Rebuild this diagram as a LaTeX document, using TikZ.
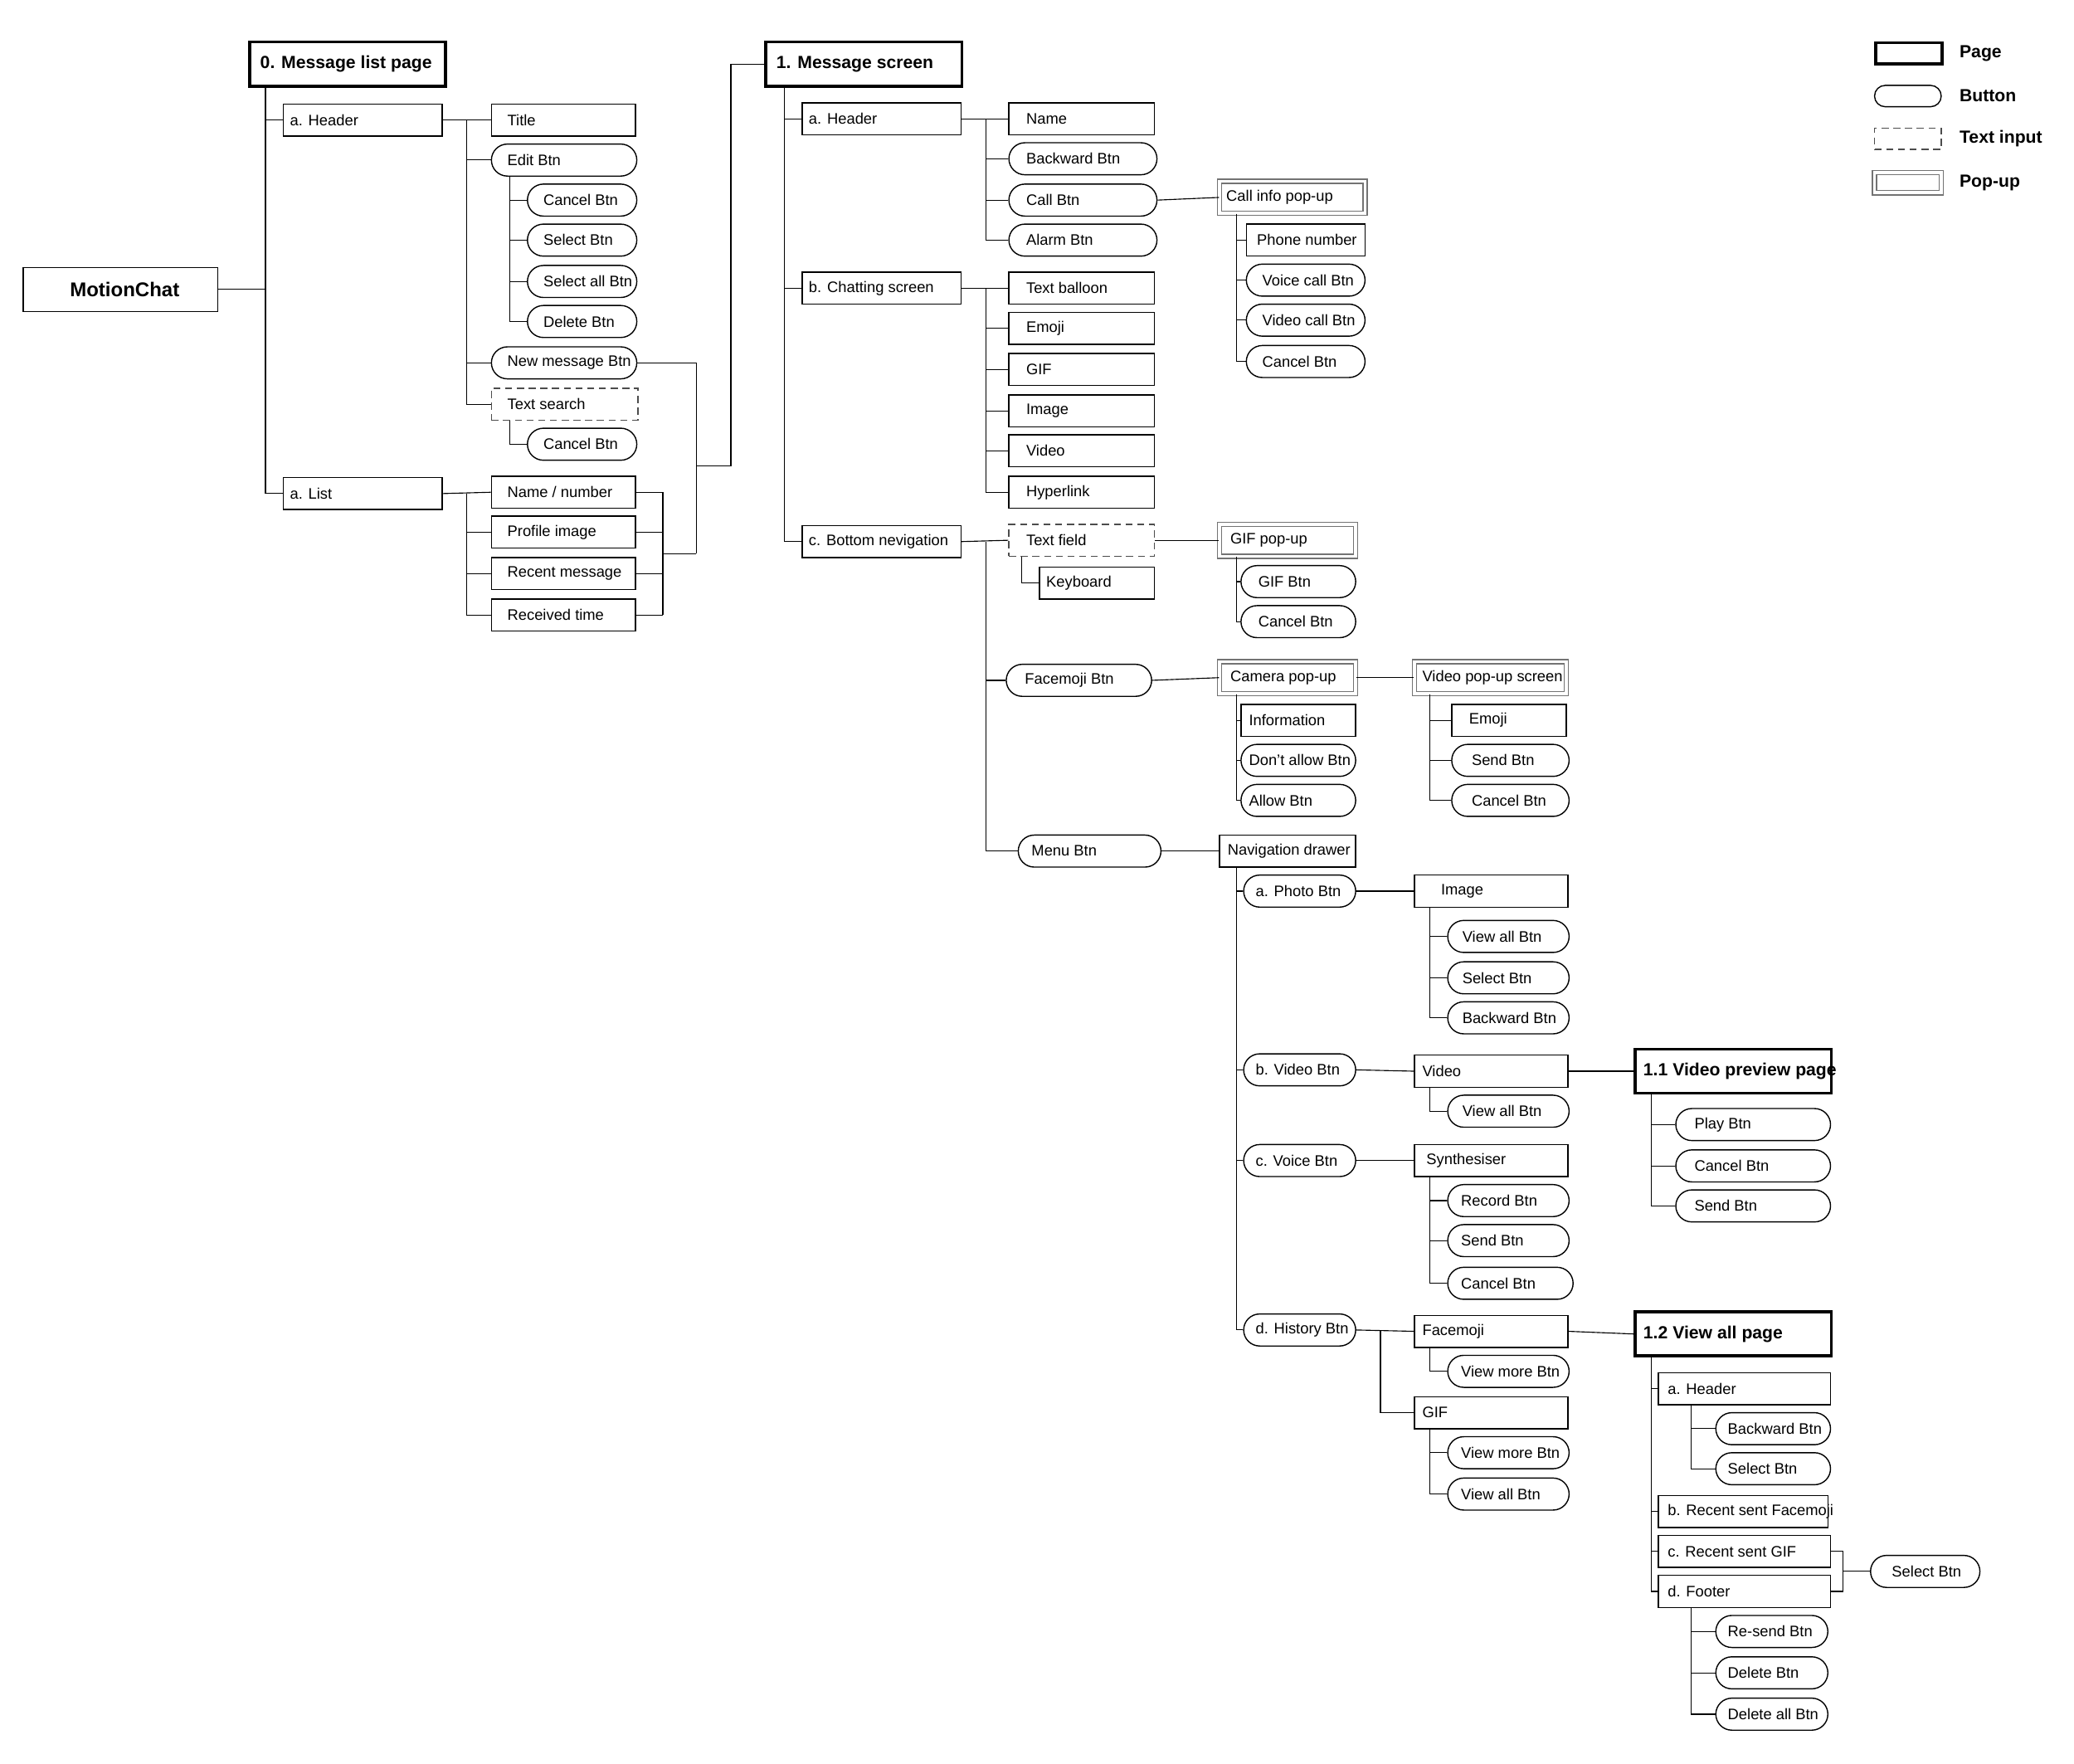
\documentclass[tikz,border=0pt]{standalone}
\usepackage{fontspec}
\setmainfont{Liberation Sans}
\usepackage{tikz}
\usetikzlibrary{calc}
\newlength\pxu
\setlength\pxu{0.02cm}
% box: name, x, y, width, style, pad, text
\newcommand{\bx}[7]{\node[#5, anchor=west, inner xsep=0pt] (#1) at (#2,#3) {\hspace*{#6\pxu}\makebox[\dimexpr#4\pxu-#6\pxu\relax][l]{#7}};}
% branch: from parent at column x to child
\newcommand{\tr}[3]{\draw (#2,0 |- #1.south) |- (#3.west);}
\tikzset{
  box/.style={draw, line width=0.5pt, minimum height=24\pxu, inner ysep=0pt, font=\fontsize{6.5}{7}\selectfont},
  btn/.style={box, rounded corners=12\pxu},
  tinput/.style={box, densely dashed, draw=black!70},
  popup/.style={box, draw=black!55, double, double distance=1.3pt},
  page/.style={box, line width=1.3pt, minimum height=33\pxu, font=\fontsize{7.5}{8}\selectfont\bfseries},
  lgtext/.style={anchor=west, font=\fontsize{7.5}{8}\selectfont\bfseries}
}
\begin{document}
\begin{tikzpicture}[x=0.02cm, y=-0.02cm]
  \useasboundingbox (0,0) rectangle (1555,1322);
  % legend
  \bx{lgPage}{1405}{40}{50}{page, minimum height=16\pxu}{0}{}
  \bx{lgBtn}{1405}{72}{50}{btn, minimum height=16\pxu, rounded corners=8\pxu}{0}{}
  \bx{lgTxt}{1405}{104}{50}{tinput, minimum height=16\pxu}{0}{}
  \bx{lgPop}{1405}{137}{50}{popup, minimum height=15\pxu}{0}{}
  \node[lgtext] (lgPageT) at (1463,40) {Page};
  \node[lgtext] (lgBtnT) at (1463,72) {Button};
  \node[lgtext] (lgTxtT) at (1463,104) {Text input};
  \node[lgtext] (lgPopT) at (1463,137) {Pop-up};

  % root
  \bx{root}{17}{217}{146}{box, minimum height=33\pxu, font=\fontsize{8.5}{9}\selectfont\bfseries}{35}{MotionChat}

  % 0. message list page
  \bx{pg0}{186}{48}{147}{page}{8}{0. Message list page}
  \bx{hd0}{212}{90}{119}{box}{5}{a. Header}
  \bx{ls0}{212}{370}{119}{box}{5}{a. List}
  \draw (root.east) -- (199,0 |- root.east);
  \tr{pg0}{199}{hd0}
  \tr{pg0}{199}{ls0}
  \bx{title0}{368}{90}{108}{box}{12}{Title}
  \bx{edit0}{368}{120}{109}{btn}{12}{Edit Btn}
  \bx{newmsg0}{368}{272}{109}{btn}{12}{New message Btn}
  \bx{search0}{368}{303}{110}{tinput}{12}{Text search}
  \draw (hd0.east) -- (title0.west);
  \draw (350,0 |- hd0.east) |- (edit0.west);
  \draw (350,0 |- hd0.east) |- (newmsg0.west);
  \draw (350,0 |- hd0.east) |- (search0.west);
  \bx{cancel0}{395}{150}{82}{btn}{12}{Cancel Btn}
  \bx{select0}{395}{180}{82}{btn}{12}{Select Btn}
  \bx{selall0}{395}{211}{82}{btn}{12}{Select all Btn}
  \bx{delete0}{395}{241}{82}{btn}{12}{Delete Btn}
  \foreach \c in {cancel0,select0,selall0,delete0}{\tr{edit0}{382}{\c}}
  \bx{scancel0}{395}{333}{82}{btn}{12}{Cancel Btn}
  \tr{search0}{382}{scancel0}
  \bx{name0}{368}{369}{108}{box}{12}{Name / number}
  \bx{prof0}{368}{399}{108}{box}{12}{Profile image}
  \bx{recent0}{368}{430}{108}{box}{12}{Recent message}
  \bx{recv0}{368}{461}{108}{box}{12}{Received time}
  \draw (ls0.east) -- (name0.west);
  \foreach \c in {prof0,recent0,recv0}{\draw (350,0 |- ls0.east) |- (\c.west);}
  \foreach \c in {name0,prof0,recent0,recv0}{\draw (\c.east) -- (497,0 |- \c.east);}
  \draw (497,0 |- name0.east) -- (497,0 |- recv0.east);
  \coordinate (jl) at (497,415);
  \coordinate (jm) at (522,349);
  \draw (jl) -- (522,415);
  \draw (newmsg0.east) -| (522,415);
  \bx{pg1}{573}{48}{147}{page}{8}{1. Message screen}
  \draw (jm) -- (548,349) |- (pg1.west);

  % 1. message screen
  \bx{hd1}{601}{89}{119}{box}{5}{a. Header}
  \bx{chat1}{601}{216}{119}{box}{5}{b. Chatting screen}
  \bx{bot1}{601}{406}{119}{box}{5}{c. Bottom nevigation}
  \foreach \c in {hd1,chat1,bot1}{\tr{pg1}{588}{\c}}
  \bx{name1}{756}{89}{109}{box}{13}{Name}
  \bx{back1}{756}{119}{111}{btn}{13}{Backward Btn}
  \bx{call1}{756}{150}{111}{btn}{13}{Call Btn}
  \bx{alarm1}{756}{180}{111}{btn}{13}{Alarm Btn}
  \draw (hd1.east) -- (name1.west);
  \foreach \c in {back1,call1,alarm1}{\draw (739,0 |- hd1.east) |- (\c.west);}
  \bx{callpop}{914}{148}{109}{popup}{5}{Call info pop-up}
  \draw (call1.east) -- (callpop.west);
  \bx{phone1}{934}{180}{89}{box}{8}{Phone number}
  \bx{voice1}{934}{210}{89}{btn}{12}{Voice call Btn}
  \bx{vcall1}{934}{240}{89}{btn}{12}{Video call Btn}
  \bx{ccancel1}{934}{271}{89}{btn}{12}{Cancel Btn}
  \foreach \c in {phone1,voice1,vcall1,ccancel1}{\tr{callpop}{927}{\c}}
  \bx{balloon1}{756}{216}{109}{box}{13}{Text balloon}
  \bx{emoji1}{756}{246}{109}{box}{13}{Emoji}
  \bx{gif1}{756}{277}{109}{box}{13}{GIF}
  \bx{image1}{756}{308}{109}{box}{13}{Image}
  \bx{video1}{756}{338}{109}{box}{13}{Video}
  \bx{link1}{756}{369}{109}{box}{13}{Hyperlink}
  \draw (chat1.east) -- (balloon1.west);
  \foreach \c in {emoji1,gif1,image1,video1,link1}{\draw (739,0 |- chat1.east) |- (\c.west);}
  \bx{field1}{756}{405}{109}{tinput}{13}{Text field}
  \bx{facebtn1}{754}{510}{109}{btn}{14}{Facemoji Btn}
  \bx{menu1}{763}{638}{107}{btn}{10}{Menu Btn}
  \draw (bot1.east) -- (field1.west);
  \draw (739,0 |- bot1.east) |- (facebtn1.west);
  \draw (739,0 |- bot1.east) |- (menu1.west);
  \bx{keyb1}{779}{437}{86}{box}{5}{Keyboard}
  \tr{field1}{766}{keyb1}
  \bx{gifpop}{914}{405}{102}{popup}{8}{GIF pop-up}
  \draw (field1.east) -- (gifpop.west);
  \bx{gifbtn1}{930}{436}{86}{btn}{13}{GIF Btn}
  \bx{gcancel1}{930}{466}{86}{btn}{13}{Cancel Btn}
  \foreach \c in {gifbtn1,gcancel1}{\tr{gifpop}{927}{\c}}
  \bx{campop}{914}{508}{102}{popup}{8}{Camera pop-up}
  \draw (facebtn1.east) -- (campop.west);
  \bx{info1}{930}{540}{86}{box}{6}{Information}
  \bx{deny1}{930}{570}{86}{btn}{6}{Don't allow Btn}
  \bx{allow1}{930}{600}{86}{btn}{6}{Allow Btn}
  \foreach \c in {info1,deny1,allow1}{\tr{campop}{927}{\c}}
  \bx{vidpop}{1060}{508}{114}{popup}{6}{Video pop-up screen}
  \draw (campop.east) -- (vidpop.west);
  \bx{vemoji1}{1088}{540}{86}{box}{13}{Emoji}
  \bx{vsend1}{1088}{570}{88}{btn}{15}{Send Btn}
  \bx{vcancel1}{1088}{600}{88}{btn}{15}{Cancel Btn}
  \foreach \c in {vemoji1,vsend1,vcancel1}{\tr{vidpop}{1072}{\c}}
  \bx{nav1}{914}{638}{102}{box}{6}{Navigation drawer}
  \draw (menu1.east) -- (nav1.west);
  \bx{photo1}{932}{668}{84}{btn}{9}{a. Photo Btn}
  \bx{vbtn1}{932}{802}{84}{btn}{9}{b. Video Btn}
  \bx{voibtn1}{932}{870}{84}{btn}{9}{c. Voice Btn}
  \bx{hist1}{932}{997}{84}{btn}{9}{d. History Btn}
  \foreach \c in {photo1,vbtn1,voibtn1,hist1}{\tr{nav1}{927}{\c}}
  \bx{pimage1}{1060}{668}{115}{box}{20}{Image}
  \draw (photo1.east) -- (pimage1.west);
  \bx{pall1}{1085}{702}{91}{btn}{11}{View all Btn}
  \bx{psel1}{1085}{733}{91}{btn}{11}{Select Btn}
  \bx{pback1}{1085}{763}{91}{btn}{11}{Backward Btn}
  \foreach \c in {pall1,psel1,pback1}{\tr{pimage1}{1072}{\c}}
  \bx{vvideo1}{1060}{803}{115}{box}{6}{Video}
  \draw (vbtn1.east) -- (vvideo1.west);
  \bx{vall1}{1085}{833}{91}{btn}{11}{View all Btn}
  \tr{vvideo1}{1072}{vall1}
  \bx{pg11}{1225}{803}{147}{page}{6}{1.1 Video preview page}
  \draw (vvideo1.east) -- (pg11.west);
  \bx{play11}{1256}{843}{116}{btn}{14}{Play Btn}
  \bx{cancel11}{1256}{874}{116}{btn}{14}{Cancel Btn}
  \bx{send11}{1256}{904}{116}{btn}{14}{Send Btn}
  \foreach \c in {play11,cancel11,send11}{\tr{pg11}{1238}{\c}}
  \bx{synth1}{1060}{870}{115}{box}{9}{Synthesiser}
  \draw (voibtn1.east) -- (synth1.west);
  \bx{rec1}{1085}{900}{91}{btn}{10}{Record Btn}
  \bx{ssend1}{1085}{930}{91}{btn}{10}{Send Btn}
  \bx{scancel1}{1085}{962}{94}{btn}{10}{Cancel Btn}
  \foreach \c in {rec1,ssend1,scancel1}{\tr{synth1}{1072}{\c}}
  \bx{hface1}{1060}{998}{115}{box}{6}{Facemoji}
  \bx{hgif1}{1060}{1059}{115}{box}{6}{GIF}
  \draw (hist1.east) -- (hface1.west);
  \draw (1035,0 |- hist1.east) |- (hgif1.west);
  \bx{fmore1}{1085}{1028}{91}{btn}{10}{View more Btn}
  \tr{hface1}{1072}{fmore1}
  \bx{gmore1}{1085}{1089}{91}{btn}{10}{View more Btn}
  \bx{gall1}{1085}{1120}{91}{btn}{10}{View all Btn}
  \foreach \c in {gmore1,gall1}{\tr{hgif1}{1072}{\c}}
  \bx{pg12}{1225}{1000}{147}{page}{6}{1.2 View all page}
  \draw (hface1.east) -- (pg12.west);
  \bx{hd12}{1243}{1041}{129}{box}{7}{a. Header}
  \bx{rface12}{1243}{1133}{127}{box}{7}{b. Recent sent Facemoji}
  \bx{rgif12}{1243}{1163}{129}{box}{7}{c. Recent sent GIF}
  \bx{foot12}{1243}{1193}{129}{box}{7}{d. Footer}
  \foreach \c in {hd12,rface12,rgif12,foot12}{\tr{pg12}{1238}{\c}}
  \bx{back12}{1286}{1071}{86}{btn}{9}{Backward Btn}
  \bx{sel12}{1286}{1101}{86}{btn}{9}{Select Btn}
  \foreach \c in {back12,sel12}{\tr{hd12}{1268}{\c}}
  \bx{resend12}{1286}{1223}{84}{btn}{9}{Re-send Btn}
  \bx{del12}{1286}{1254}{84}{btn}{9}{Delete Btn}
  \bx{delall12}{1286}{1285}{84}{btn}{9}{Delete all Btn}
  \foreach \c in {resend12,del12,delall12}{\tr{foot12}{1268}{\c}}
  \bx{gsel12}{1402}{1178}{82}{btn}{16}{Select Btn}
  \draw (rgif12.east) -- (1382,0 |- rgif12.east) -- (1382,0 |- foot12.east) -- (foot12.east);
  \draw (1382,0 |- gsel12.west) -- (gsel12.west);
\end{tikzpicture}
\end{document}
